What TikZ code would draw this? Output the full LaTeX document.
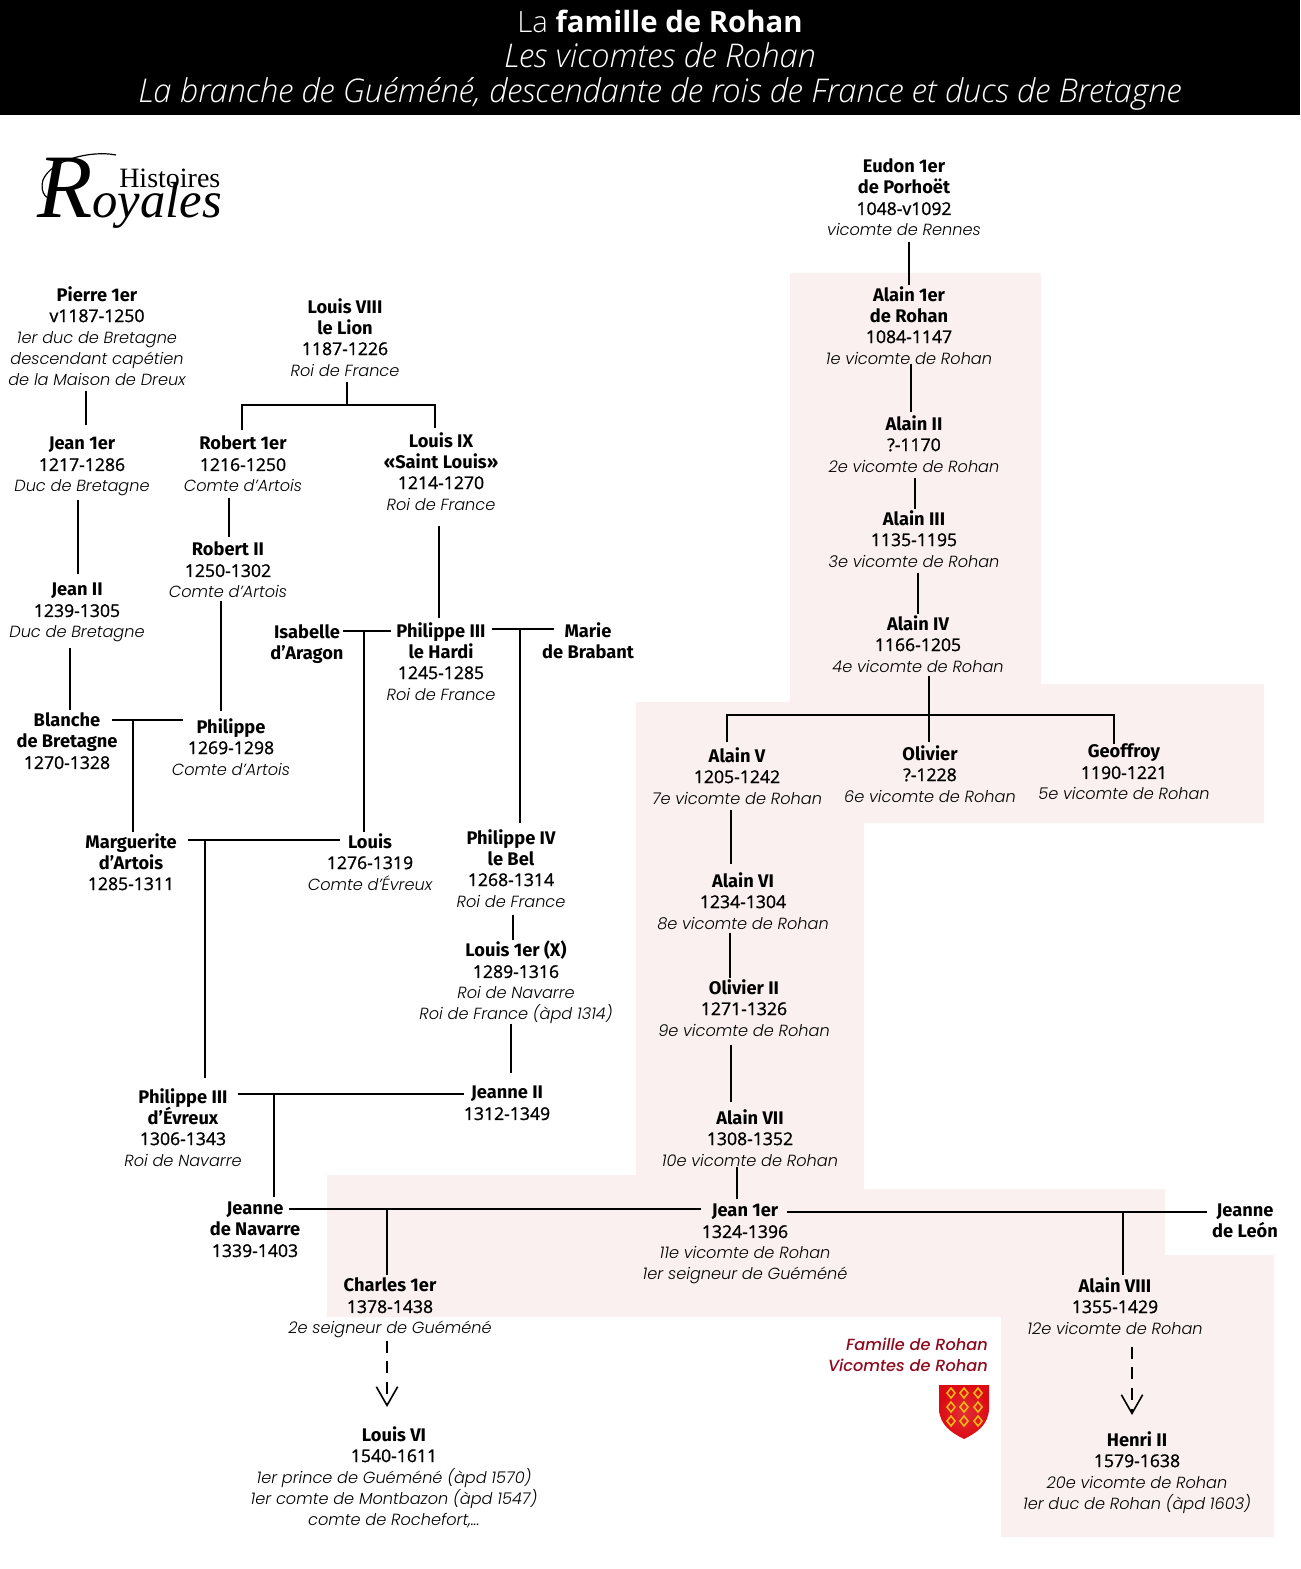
\documentclass[tikz,border=0pt]{standalone}
\usepackage{fontspec}
\usetikzlibrary{arrows.meta}
\setmainfont{Fira Sans}
\newfontfamily\titlefont{Open Sans}
\newfontfamily\titlelight{Open Sans Light}
\newfontfamily\datefont[FakeBold=1.2]{Open Sans}
\newfontfamily\gothfont{Poppins Light}
\newfontfamily\legendfont{Poppins Medium}
\newfontfamily\logofont{Liberation Serif}
\newcommand{\nm}[1]{{\bfseries\strut #1}}
\newcommand{\dt}[1]{{\datefont\fontsize{13.2}{15.75}\selectfont\strut #1}}
\newcommand{\ti}[1]{{\gothfont\itshape\fontsize{12.1}{15.75}\selectfont\strut #1}}
\definecolor{rohanpink}{HTML}{FAF0EF}
\definecolor{rohanred}{HTML}{8E0A1F}
\definecolor{shieldred}{HTML}{DC0A14}
\definecolor{shieldgold}{HTML}{F6B70F}
\tikzset{
    dx/.style={xshift=#1*0.75pt},
    dy/.style={yshift=-#1*0.75pt},
    person/.style={anchor=north,yshift=8*0.75pt,align=center,inner sep=0pt,execute at begin node={\lineskiplimit=-10pt},font=\fontsize{13.7}{15.75}\selectfont},
    link/.style={line width=1.5pt},
    descent/.style={link,dash pattern=on 9pt off 6.5pt,-{Straight Barb[length=14pt,width=16pt,line width=1.2pt]}},
    banner/.style={anchor=base,inner sep=0pt,text=white,font=\titlelight\fontsize{24.5}{28}\selectfont}
}
\begin{document}
\begin{tikzpicture}[x=0.75pt,y=-0.75pt]
    \useasboundingbox (-1,0) rectangle (1299,1569);
    % bandeau
    \fill[black] (-1,0) rectangle (1299,115);
    \node[banner,font=\titlelight\fontsize{22}{28}\selectfont] (t1) at (659,33) {La {\titlefont\bfseries famille de Rohan}};
    \node[banner] (t2) at (659,68) {\itshape Les vicomtes de Rohan};
    \node[banner] (t3) at (659,103) {\itshape La branche de Guéméné, descendante de rois de France et ducs de Bretagne};
    % zone Rohan
    \fill[rohanpink] (789,273) -- (1040,273) -- (1040,684) -- (1263,684) -- (1263,823) -- (863,823) -- (863,1189)
        -- (1164,1189) -- (1164,1255) -- (1273,1255) -- (1273,1537) -- (1000,1537) -- (1000,1317) -- (326,1317)
        -- (326,1175) -- (635,1175) -- (635,702) -- (789,702) -- cycle;
    % logo
    \node[inner sep=0pt,anchor=base west,font=\logofont\fontsize{21}{25}\selectfont] (histoires) at (118,188) {Histoires};
    \node[inner sep=0pt,anchor=base west,font=\logofont\itshape\fontsize{38}{44}\selectfont] (royales) at (36,218) {{\fontsize{68}{70}\selectfont R}oyales};
    \draw[line width=0.9pt] (115,155) .. controls (90,150) and (50,160) .. (42,180) .. controls (38,195) and (48,200) .. (53,200);
    % vicomtes
    \node[person] (eudon) at (903,166) {\nm{Eudon 1er}\\\nm{de Porhoët}\\\dt{1048-v1092}\\\ti{vicomte de Rennes}};
    \node[person] (alainA) at (908,294) {\nm{Alain 1er}\\\nm{de Rohan}\\\dt{1084-1147}\\\ti{1e vicomte de Rohan}};
    \node[person] (alainB) at (913,423) {\nm{Alain II}\\\dt{?-1170}\\\ti{2e vicomte de Rohan}};
    \node[person] (alainC) at (913,518) {\nm{Alain III}\\\dt{1135-1195}\\\ti{3e vicomte de Rohan}};
    \node[person] (alainD) at (917,623) {\nm{Alain IV}\\\dt{1166-1205}\\\ti{4e vicomte de Rohan}};
    \node[person] (alainE) at (736,755) {\nm{Alain V}\\\dt{1205-1242}\\\ti{7e vicomte de Rohan}};
    \node[person] (olivierA) at (929,753) {\nm{Olivier}\\\dt{?-1228}\\\ti{6e vicomte de Rohan}};
    \node[person] (geoffroy) at (1123,751) {\nm{Geoffroy}\\\dt{1190-1221}\\\ti{5e vicomte de Rohan}};
    \node[person] (alainF) at (742,880) {\nm{Alain VI}\\\dt{1234-1304}\\\ti{8e vicomte de Rohan}};
    \node[person] (olivierB) at (743,987) {\nm{Olivier II}\\\dt{1271-1326}\\\ti{9e vicomte de Rohan}};
    \node[person] (alainG) at (749,1117) {\nm{Alain VII}\\\dt{1308-1352}\\\ti{10e vicomte de Rohan}};
    \node[person] (jeanR) at (744,1210) {\nm{Jean 1er}\\\dt{1324-1396}\\\ti{11e vicomte de Rohan}\\\ti{1er seigneur de Guéméné}};
    \node[person] (jeanneL) at (1244,1210) {\nm{Jeanne}\\\nm{de León}};
    \node[person] (jeanneN) at (254,1208) {\nm{Jeanne}\\\nm{de Navarre}\\\dt{1339-1403}};
    \node[person] (alainH) at (1114,1285) {\nm{Alain VIII}\\\dt{1355-1429}\\\ti{12e vicomte de Rohan}};
    \node[person] (henri) at (1136,1439) {\nm{Henri II}\\\dt{1579-1638}\\\ti{20e vicomte de Rohan}\\\ti{1er duc de Rohan (àpd 1603)}};
    \node[person] (charles) at (389,1285) {\nm{Charles 1er}\\\dt{1378-1438}\\\ti{2e seigneur de Guéméné}};
    \node[person] (louisG) at (393,1434) {\nm{Louis VI}\\\dt{1540-1611}\\\ti{1er prince de Guéméné (àpd 1570)}\\\ti{1er comte de Montbazon (àpd 1547)}\\\ti{comte de Rochefort,...}};
    % Bretagne et France
    \node[person] (pierre) at (96,294) {\nm{Pierre 1er}\\\dt{v1187-1250}\\\ti{1er duc de Bretagne}\\\ti{descendant capétien}\\\ti{de la Maison de Dreux}};
    \node[person] (louisH) at (344,306) {\nm{Louis VIII}\\\nm{le Lion}\\\dt{1187-1226}\\\ti{Roi de France}};
    \node[person] (jeanB) at (81,443) {\nm{Jean 1er}\\\dt{1217-1286}\\\ti{Duc de Bretagne}};
    \node[person] (robertA) at (242,443) {\nm{Robert 1er}\\\dt{1216-1250}\\\ti{Comte d’Artois}};
    \node[person] (louisN) at (440,440) {\nm{Louis IX}\\\nm{«Saint Louis»}\\\dt{1214-1270}\\\ti{Roi de France}};
    \node[person] (jeanC) at (76,589) {\nm{Jean II}\\\dt{1239-1305}\\\ti{Duc de Bretagne}};
    \node[person] (robertB) at (227,549) {\nm{Robert II}\\\dt{1250-1302}\\\ti{Comte d’Artois}};
    \node[person] (isabelle) at (306,632) {\nm{Isabelle}\\\nm{d’Aragon}};
    \node[person] (philH) at (440,630) {\nm{Philippe III}\\\nm{le Hardi}\\\dt{1245-1285}\\\ti{Roi de France}};
    \node[person] (marie) at (587,630) {\nm{Marie}\\\nm{de Brabant}};
    \node[person] (blanche) at (66,720) {\nm{Blanche}\\\nm{de Bretagne}\\\dt{1270-1328}};
    \node[person] (philA) at (230,726) {\nm{Philippe}\\\dt{1269-1298}\\\ti{Comte d’Artois}};
    \node[person] (marguerite) at (130,841) {\nm{Marguerite}\\\nm{d’Artois}\\\dt{1285-1311}};
    \node[person] (louisE) at (369,841) {\nm{Louis}\\\dt{1276-1319}\\\ti{Comte d’Évreux}};
    \node[person] (philB) at (510,837) {\nm{Philippe IV}\\\nm{le Bel}\\\dt{1268-1314}\\\ti{Roi de France}};
    \node[person] (louisX) at (515,949) {\nm{Louis 1er (X)}\\\dt{1289-1316}\\\ti{Roi de Navarre}\\\ti{Roi de France (àpd 1314)}};
    \node[person] (jeanneB) at (506,1092) {\nm{Jeanne II}\\\dt{1312-1349}};
    \node[person] (philE) at (182,1096) {\nm{Philippe III}\\\nm{d’Évreux}\\\dt{1306-1343}\\\ti{Roi de Navarre}};
    % legende
    \node[inner sep=0pt,anchor=north east,align=right,text=rohanred,font=\legendfont\itshape\fontsize{12.1}{15.75}\selectfont] (legende) at (987,1338) {Famille de Rohan\\Vicomtes de Rohan};
    % jonctions
    \coordinate (fratRohan) at (928,715);
    \coordinate (fratLouis) at (346,405);
    \coordinate (mBlanche) at (132,720);
    \coordinate (mMarg) at (204,840);
    \coordinate (mIsab) at (363,631);
    \coordinate (mMarie) at (519,629);
    \coordinate (mPhil) at (273,1094);
    \coordinate (mJeanneN) at (386,1209);
    \coordinate (mJeanneL) at (1122,1212);
    % liens Rohan
    \draw[link] ([dx=5,dy=-1]eudon.south) -- ([dy=-1]alainA.north);
    \draw[link] ([dx=2,dy=-7]alainA.south) -- ([dx=-3,dy=-3]alainB.north);
    \draw[link] ([dx=1,dy=-1]alainB.south) -- ([dx=1,dy=-1]alainC.north);
    \draw[link] ([dx=4,dy=-1]alainC.south) -- ([dy=-1]alainD.north);
    \draw[link] ([dx=11,dy=-3]alainD.south) -- (fratRohan);
    \draw[link] ([dx=-10,dy=-5]alainE.north) |- (fratRohan);
    \draw[link] ([dx=-10,dy=1]geoffroy.north) |- (fratRohan);
    \draw[link] (fratRohan) -- ([dx=-1,dy=-3]olivierA.north);
    \draw[link] ([dx=-6,dy=-1]alainE.south) -- ([dx=-12,dy=-8]alainF.north);
    \draw[link] ([dx=-13,dy=-3]alainF.south) -- ([dx=-14,dy=-1]olivierB.north);
    \draw[link] ([dx=-13,dy=2]olivierB.south) -- ([dx=-19,dy=-7]alainG.north);
    \draw[link] ([dx=-13,dy=-6]alainG.south) -- ([dx=-8,dy=-3]jeanR.north);
    % liens familles
    \draw[link] ([dx=-11,dy=-1]pierre.south) -- ([dx=4,dy=-10]jeanB.north);
    \draw[link] ([dx=-4,dy=1]jeanB.south) -- ([dx=1,dy=-7]jeanC.north);
    \draw[link] ([dx=-7,dy=3]jeanC.south) -- ([dx=3,dy=-2]blanche.north);
    \draw[link] ([dx=2,dy=-1]louisH.south) -- (fratLouis);
    \draw[link] ([dx=-1,dy=-5]robertA.north) |- (fratLouis);
    \draw[link] ([dx=-6,dy=-4]louisN.north) |- (fratLouis);
    \draw[link] ([dx=-14,dy=-1]robertA.south) -- ([dx=1,dy=-4]robertB.north);
    \draw[link] ([dx=-2,dy=9]louisN.south) -- ([dx=-2,dy=-4]philH.north);
    \draw[link] ([dx=-7,dy=-4]robertB.south) -- ([dx=-10,dy=-7]philA.north);
    \draw[link] ([dx=45]blanche.north |- mBlanche) -- ([dx=-48]philA.north |- mBlanche);
    \draw[link] (mBlanche) -- ([dx=2,dy=-1]marguerite.north);
    \draw[link] ([dx=36]isabelle.north |- mIsab) -- ([dx=-50]philH.north |- mIsab);
    \draw[link] (mIsab) -- ([dx=-6,dy=-1]louisE.north);
    \draw[link] ([dx=51]philH.north |- mMarie) -- ([dx=-34]marie.north |- mMarie);
    \draw[link] (mMarie) -- ([dx=9,dy=-6]philB.north);
    \draw[link] ([dx=57]marguerite.north |- mMarg) -- ([dx=-30]louisE.north |- mMarg);
    \draw[link] (mMarg) -- ([dy=-10]philE.north -| mMarg);
    \draw[link] ([dx=2,dy=1]philB.south) -- ([dx=-3,dy=-1]louisX.north);
    \draw[link] ([dx=-5,dy=-3]louisX.south) -- ([dx=4,dy=-11]jeanneB.north);
    \draw[link] ([dx=55]philE.north |- mPhil) -- ([dx=-43]jeanneB.north |- mPhil);
    \draw[link] (mPhil) -- ([dy=-3]jeanneN.north -| mPhil);
    \draw[link] ([dx=34]jeanneN.north |- mJeanneN) -- ([dx=-44]jeanR.north |- mJeanneN);
    \draw[link] (mJeanneN) -- ([dx=-3,dy=-2]charles.north);
    \draw[link] ([dx=42]jeanR.north |- mJeanneL) -- ([dx=-38]jeanneL.north |- mJeanneL);
    \draw[link] (mJeanneL) -- ([dx=8,dy=-2]alainH.north);
    \draw[descent] ([dx=-3]charles.south) -- ([dx=-7,dy=-19]louisG.north);
    \draw[descent] ([dx=17,dy=6]alainH.south) -- ([dx=-5,dy=-16]henri.north);
    % ecu
    \shade[inner color=shieldred!85!white,outer color=shieldred] (938,1385) -- (988,1385) -- (988,1408) .. controls (988,1425) and (975,1433) .. (963,1439) .. controls (951,1433) and (938,1425) .. (938,1408) -- cycle;
    \foreach \i in {950,963,977}
        \foreach \j in {1393,1407,1421}
            \draw[shieldgold,line width=1.2pt] (\i-4,\j) -- (\i,\j-5) -- (\i+4,\j) -- (\i,\j+5) -- cycle;
\end{tikzpicture}
\end{document}
